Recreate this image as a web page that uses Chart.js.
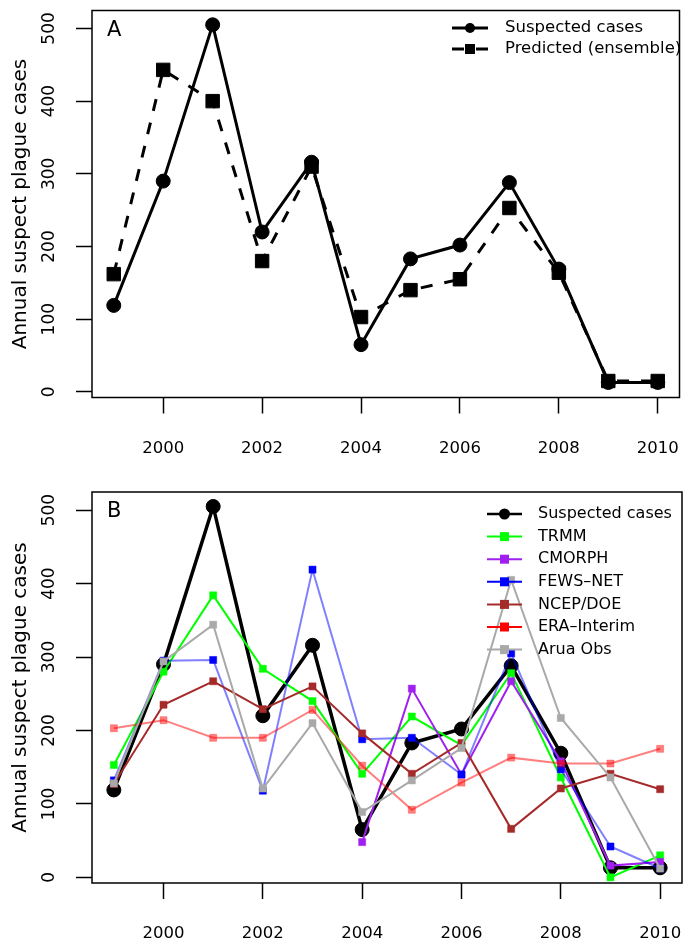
<!DOCTYPE html>
<html>
<head>
<meta charset="utf-8">
<script src="https://cdn.jsdelivr.net/npm/chart.js@4.4.1/dist/chart.umd.min.js"></script>
<style>
  html, body { margin: 0; padding: 0; background: #fff; }
  canvas { display: block; }
</style>
</head>
<body>
<canvas id="chartA" width="690" height="474"></canvas>
<canvas id="chartB" width="690" height="474"></canvas>
<script>
// data
const years = [1999, 2000, 2001, 2002, 2003, 2004, 2005, 2006, 2007, 2008, 2009, 2010];
const xTicks = [2000, 2002, 2004, 2006, 2008, 2010];
const yTicks = [0, 100, 200, 300, 400, 500];

const suspected = [119, 290, 505, 220, 316, 65, 183, 202, 288, 169, 13, 13];
const predicted = [162, 443, 400, 180, 310, 103, 140, 155, 253, 164, 15, 15];

const trmm    = [153, 280, 384, 284, 240, 141, 219, 180, 278, 136, 0, 30];
const cmorph  = [null, null, null, null, null, 48, 257, 140, 267, 158, 16, 21];
const fewsnet = [132, 295, 296, 118, 419, 188, 190, 140, 305, 147, 42, 12];
const ncep    = [127, 235, 267, 229, 260, 196, 141, 183, 66, 121, 141, 120];
const era     = [203, 214, 190, 190, 228, 152, 92, 129, 163, 155, 155, 175];
const arua    = [128, 294, 344, 121, 210, 89, 132, 176, 405, 217, 136, 12];

const FONT = '"DejaVu Sans", Verdana, sans-serif';

function pts(vals) {
  return years.map((y, i) => ({ x: y, y: vals[i] }));
}

// box round the plot, panel letter and an R-style legend
const rFrame = {
  id: 'rFrame',
  afterDraw(chart, args, opts) {
    const { ctx, chartArea: a } = chart;
    ctx.save();
    ctx.strokeStyle = '#000';
    ctx.lineWidth = 1.5;
    ctx.setLineDash([]);
    ctx.strokeRect(a.left, a.top, a.right - a.left, a.bottom - a.top);

    ctx.fillStyle = '#000';
    ctx.font = '21px ' + FONT;
    ctx.textBaseline = 'middle';
    ctx.textAlign = 'left';
    ctx.fillText(opts.letter, a.left + 15, a.top + 20);

    const lg = opts.legend;
    chart.data.datasets.forEach((ds, i) => {
      const y = lg.y0 + i * lg.dy;
      ctx.strokeStyle = ds.legendColor;
      ctx.lineWidth = ds.legendWidth;
      ctx.setLineDash(ds.borderDash || []);
      ctx.beginPath();
      ctx.moveTo(lg.x0, y);
      ctx.lineTo(lg.x1, y);
      ctx.stroke();
      ctx.setLineDash([]);
      ctx.fillStyle = ds.legendColor;
      const mx = (lg.x0 + lg.x1) / 2;
      if (ds.pointStyle === 'circle') {
        ctx.beginPath();
        ctx.arc(mx, y, lg.r, 0, Math.PI * 2);
        ctx.fill();
      } else {
        ctx.fillRect(mx - lg.s, y - lg.s, lg.s * 2, lg.s * 2);
      }
      ctx.fillStyle = '#000';
      ctx.font = lg.font + 'px ' + FONT;
      ctx.fillText(ds.label, lg.tx, y);
    });
    ctx.restore();
  }
};

function makeChart(id, datasets, padTop, xHeight, letter, legend) {
  new Chart(document.getElementById(id), {
    type: 'line',
    data: { datasets },
    plugins: [rFrame],
    options: {
      responsive: false,
      animation: false,
      layout: { padding: { top: padTop, right: 7, left: 0, bottom: 0 } },
      plugins: {
        legend: { display: false },
        tooltip: { enabled: false },
        rFrame: { letter, legend }
      },
      scales: {
        x: {
          type: 'linear',
          min: 1998.56,
          max: 2010.44,
          afterBuildTicks: s => { s.ticks = xTicks.map(v => ({ value: v })); },
          afterFit: s => {
            s.height = xHeight;
            s.paddingLeft = 0;
            s.paddingRight = 0;
          },
          grid: { drawOnChartArea: false, tickLength: 16, tickColor: '#000', tickWidth: 1.5 },
          border: { display: false },
          ticks: {
            color: '#000',
            font: { family: FONT, size: 16.5 },
            padding: 25,
            maxRotation: 0,
            callback: v => String(v)
          }
        },
        y: {
          min: -7.7,
          max: 524.7,
          afterBuildTicks: s => { s.ticks = yTicks.map(v => ({ value: v })); },
          afterFit: s => {
            s.width = 92;
            s.paddingTop = 0;
            s.paddingBottom = 0;
          },
          grid: { drawOnChartArea: false, tickLength: 16, tickColor: '#000', tickWidth: 1.5 },
          border: { display: false },
          ticks: {
            color: '#000',
            font: { family: FONT, size: 17 },
            padding: 10,
            minRotation: 90,
            maxRotation: 90,
            crossAlign: 'center',
            callback: v => String(v)
          },
          title: {
            display: true,
            text: 'Annual suspect plague cases',
            color: '#000',
            font: { family: FONT, size: 20 },
            padding: { top: 9, bottom: 0 }
          }
        }
      }
    }
  });
}

// panel A
makeChart('chartA', [
  {
    label: 'Suspected cases', data: pts(suspected),
    borderColor: '#000', borderWidth: 3, pointStyle: 'circle', pointRadius: 7,
    pointBackgroundColor: '#000', pointBorderColor: '#000', pointBorderWidth: 1,
    legendColor: '#000', legendWidth: 3, order: 1
  },
  {
    label: 'Predicted (ensemble)', data: pts(predicted),
    borderColor: '#000', borderWidth: 3, borderDash: [12, 12], pointStyle: 'rect', pointRadius: 9.5,
    pointBackgroundColor: '#000', pointBorderColor: '#000', pointBorderWidth: 1,
    legendColor: '#000', legendWidth: 3, order: 2
  }
], 5, 76.5, 'A', { x0: 452, x1: 488, tx: 505, y0: 28, dy: 21, r: 5, s: 5, font: 16.5 });

// panel B
const seriesB = [
  ['TRMM', trmm, '#00ff00', '#00ff00', '#00ff00'],
  ['CMORPH', cmorph, '#a020f0', '#a020f0', '#a020f0'],
  ['FEWS\u2013NET', fewsnet, 'rgba(0,0,255,0.5)', '#0000ff', '#0000ff'],
  ['NCEP/DOE', ncep, '#a52a2a', '#a52a2a', '#a52a2a'],
  ['ERA\u2013Interim', era, 'rgba(255,0,0,0.5)', 'rgba(255,0,0,0.5)', '#ff0000'],
  ['Arua Obs', arua, '#a9a9a9', '#a9a9a9', '#a9a9a9']
];
const dsB = [{
  label: 'Suspected cases', data: pts(suspected),
  borderColor: '#000', borderWidth: 3.5, pointStyle: 'circle', pointRadius: 7,
  pointBackgroundColor: '#000', pointBorderColor: '#000', pointBorderWidth: 1,
  legendColor: '#000', legendWidth: 2.5, order: 10
}];
seriesB.forEach(([label, vals, line, pt, leg], i) => {
  dsB.push({
    label, data: pts(vals),
    borderColor: line, borderWidth: 2, pointStyle: 'rect', pointRadius: 5,
    pointBackgroundColor: pt, pointBorderColor: pt, pointBorderWidth: 0.5,
    legendColor: leg, legendWidth: 2, order: 9 - i, spanGaps: false
  });
});
makeChart('chartB', dsB, 18, 65, 'B', { x0: 487, x1: 522, tx: 538, y0: 40, dy: 22.6, r: 5.5, s: 4.5, font: 16 });
</script>
</body>
</html>
